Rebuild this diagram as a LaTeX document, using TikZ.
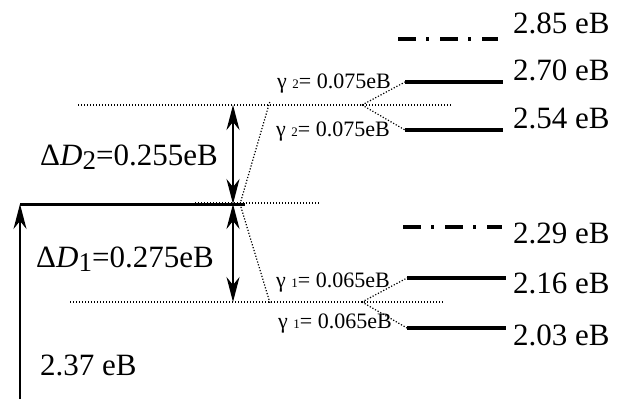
\documentclass[tikz,border=0pt]{standalone}
\usepackage{fontspec}
\setmainfont{Liberation Serif}
\usetikzlibrary{arrows.meta}
\begin{document}
\begin{tikzpicture}[x=1pt,y=-1pt,
  level/.style={line width=4pt},
  virt/.style={line width=4pt, dash pattern=on 18pt off 10pt on 3pt off 11pt},
  guide/.style={line width=1.2pt, dash pattern=on 1.2pt off 1.8pt},
  arr/.style={line width=1.5pt, -{Stealth[length=25pt,width=13pt,inset=8pt]}},
  darr/.style={line width=1.5pt, {Stealth[length=25pt,width=13pt,inset=8pt]}-{Stealth[length=25pt,width=13pt,inset=8pt]}},
  big/.style={font=\fontsize{31}{31}\selectfont, anchor=base west, inner sep=0pt},
  small/.style={font=\fontsize{22}{22}\selectfont, anchor=base west, inner sep=0pt}
]
\useasboundingbox (0,0) rectangle (628,399);
% coordinates
\coordinate (a0) at (20,204); \coordinate (a1) at (245,204);
\coordinate (b0) at (20,399);
\coordinate (u0) at (78,105); \coordinate (u1) at (452,105);
\coordinate (m0) at (195,203); \coordinate (m1) at (320,203);
\coordinate (l0) at (70,302); \coordinate (l1) at (443,302);
\coordinate (d1t) at (233,105); \coordinate (d1b) at (233,204);
\coordinate (d2t) at (233,204); \coordinate (d2b) at (233,302);
\coordinate (s0) at (240,204); \coordinate (s1) at (270,101); \coordinate (s2) at (270,303);
\coordinate (su) at (362,105); \coordinate (sl) at (362,302);
\coordinate (p85a) at (398,39); \coordinate (p85b) at (498,39);
\coordinate (p70a) at (405,82); \coordinate (p70b) at (503,82);
\coordinate (p54a) at (405,130); \coordinate (p54b) at (503,130);
\coordinate (p29a) at (403,227); \coordinate (p29b) at (502,227);
\coordinate (p16a) at (407,278); \coordinate (p16b) at (506,278);
\coordinate (p03a) at (407,328); \coordinate (p03b) at (506,328);
% guides
\draw[guide] (u0) -- (u1);
\draw[guide] (l0) -- (l1);
\draw[line width=3pt] (a0) -- (a1);
\draw[guide] (m0) -- (m1);
\draw[guide] (s0) -- (s1);
\draw[guide] (s0) -- (s2);
\draw[guide] (su) -- (p70a);
\draw[guide] (su) -- (p54a);
\draw[guide] (sl) -- (p16a);
\draw[guide] (sl) -- (p03a);
% levels
\draw[virt] (p85a) -- (p85b);
\draw[level] (p70a) -- (p70b);
\draw[level] (p54a) -- (p54b);
\draw[virt] (p29a) -- (p29b);
\draw[level] (p16a) -- (p16b);
\draw[level] (p03a) -- (p03b);
% arrows
\draw[arr] (b0) -- (a0);
\draw[darr] (d1t) -- (d1b);
\draw[darr] (d2t) -- (d2b);
% labels
\node[big] (t85) at (513,33) {2.85 eB};
\node[big] (t70) at (513,80) {2.70 eB};
\node[big] (t54) at (513,128) {2.54 eB};
\node[big] (t29) at (513,243) {2.29 eB};
\node[big] (t16) at (513,293) {2.16 eB};
\node[big] (t03) at (513,345) {2.03 eB};
\node[big] (t37) at (40,375) {2.37 eB};
\node[big] (dd2) at (40,165) {Δ\textit{D}\raisebox{-4pt}{\fontsize{27}{27}\selectfont 2}=0.255eB};
\node[big] (dd1) at (36,267) {Δ\textit{D}\raisebox{-4pt}{\fontsize{27}{27}\selectfont 1}=0.275eB};
\node[small] (g2a) at (277,88) {γ {\fontsize{13}{13}\selectfont 2}= 0.075eB};
\node[small] (g2b) at (276,136) {γ {\fontsize{13}{13}\selectfont 2}= 0.075eB};
\node[small] (g1a) at (276,287) {γ {\fontsize{13}{13}\selectfont 1}= 0.065eB};
\node[small] (g1b) at (278,328) {γ {\fontsize{13}{13}\selectfont 1}= 0.065eB};
\end{tikzpicture}
\end{document}
